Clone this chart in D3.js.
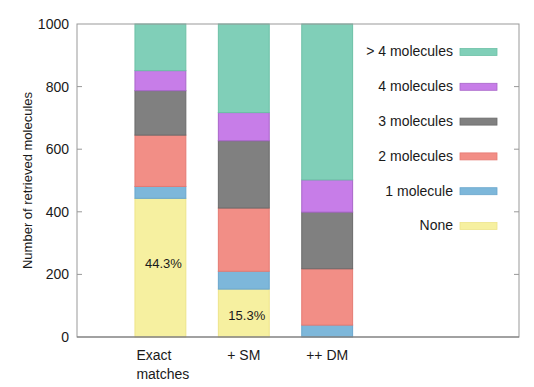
<!DOCTYPE html>
<html>
<head>
<meta charset="utf-8">
<script src="https://cdn.jsdelivr.net/npm/d3@7"></script>
<style>
  body { margin: 0; background: #fff; }
  text { font-family: "Liberation Sans", Arial, Helvetica, sans-serif; fill: #1a1a1a; }
</style>
</head>
<body>
<script>
// stacked bars: number of retrieved molecules per method

var categories = ["Exact matches", "+ SM", "++ DM"];
var catLines = [["Exact", "matches"], ["+ SM"], ["++ DM"]];
var seriesNames = ["None", "1 molecule", "2 molecules", "3 molecules", "4 molecules", "> 4 molecules"];
var seriesColors = ["#f6f0a0", "#7db7da", "#f28e86", "#808080", "#c77de8", "#80cfb8"];
var seriesStroke = ["#eee48a", "#6aa6cc", "#e57a72", "#6a6a6a", "#a866c9", "#6cc0a6"];

var none = [443, 153, 0];
var one = [38, 57, 38];
var two = [164, 202, 180];
var three = [142, 215, 181];
var four = [64, 90, 103];
var more = [149, 283, 498];

var pctLabels = ["44.3%", "15.3%", ""];
var pctLabelY = [221, 54, 0];

var yTicks = [0, 200, 400, 600, 800, 1000];

var svgWidth = 534;
var svgHeight = 387;
var margin = { top: 24, right: 15, bottom: 50, left: 77 };
var width = svgWidth - margin.left - margin.right;
var height = svgHeight - margin.top - margin.bottom;

var svg = d3.select("body")
  .append("svg")
  .attr("width", svgWidth)
  .attr("height", svgHeight);

var chart = svg.append("g")
  .attr("transform", "translate(" + margin.left + "," + margin.top + ")");

// x runs in "bar index" units, like gnuplot histograms
var xScale = d3.scaleLinear().domain([-1, 4.3]).range([0, width]);
var yScale = d3.scaleLinear().domain([0, 1000]).range([height, 0]);
var barW = xScale(0.61) - xScale(0);

var series = [none, one, two, three, four, more];
var rows = categories.map(function(c, i) {
  var r = { cat: c, idx: i };
  seriesNames.forEach(function(s, j) { r[s] = series[j][i]; });
  return r;
});
var stacked = d3.stack().keys(seriesNames)(rows);

var layers = chart.selectAll("g.layer")
  .data(stacked)
  .enter()
  .append("g")
  .attr("class", "layer")
  .attr("fill", function(d, i) { return seriesColors[i]; })
  .attr("stroke", function(d, i) { return seriesStroke[i]; });

layers.selectAll("rect")
  .data(function(d) { return d; })
  .enter()
  .append("rect")
  .filter(function(d) { return d[1] - d[0] > 0; })
  .attr("x", function(d) { return xScale(d.data.idx) - barW / 2; })
  .attr("y", function(d) { return yScale(d[1]); })
  .attr("width", barW)
  .attr("height", function(d) { return yScale(d[0]) - yScale(d[1]); })
  .attr("stroke-width", 1);

// percentage labels inside the yellow segments
chart.selectAll("text.pct")
  .data(pctLabels)
  .enter()
  .append("text")
  .attr("class", "pct")
  .attr("x", function(d, i) { return xScale(i) + 3; })
  .attr("y", function(d, i) { return yScale(pctLabelY[i]); })
  .attr("text-anchor", "middle")
  .style("font-size", "13px")
  .text(function(d) { return d; });

// frame
chart.append("rect")
  .attr("x", 0).attr("y", 0)
  .attr("width", width).attr("height", height)
  .attr("fill", "none")
  .attr("stroke", "#999")
  .attr("stroke-width", 1);
chart.append("line")
  .attr("x1", 0).attr("x2", width)
  .attr("y1", height).attr("y2", height)
  .attr("stroke", "#777");

// y axis, ticks inward on both sides
var leftAxis = d3.axisLeft(yScale).tickValues(yTicks).tickFormat(d3.format("d")).tickSize(0).tickPadding(8);
var yAxisG = chart.append("g").call(leftAxis);
yAxisG.select(".domain").remove();
yAxisG.selectAll("text").style("font-size", "14px").attr("fill", "#1a1a1a");

chart.selectAll("line.ltick")
  .data(yTicks.slice(1, -1))
  .enter()
  .append("line")
  .attr("x1", 0).attr("x2", 5)
  .attr("y1", function(d) { return yScale(d); })
  .attr("y2", function(d) { return yScale(d); })
  .attr("stroke", "#999");
chart.selectAll("line.rtick")
  .data(yTicks.slice(1, -1))
  .enter()
  .append("line")
  .attr("x1", width - 5).attr("x2", width)
  .attr("y1", function(d) { return yScale(d); })
  .attr("y2", function(d) { return yScale(d); })
  .attr("stroke", "#999");

// y label
svg.append("text")
  .attr("transform", "translate(32," + (margin.top + height / 2) + ") rotate(-90)")
  .attr("text-anchor", "middle")
  .style("font-size", "13px")
  .text("Number of retrieved molecules");

// category labels
var catG = chart.selectAll("text.cat")
  .data(catLines)
  .enter()
  .append("text")
  .attr("class", "cat")
  .attr("text-anchor", function(d) { return d.length > 1 ? "start" : "middle"; })
  .style("font-size", "14px");
catG.selectAll("tspan")
  .data(function(d, i) { return d.map(function(t) { return { t: t, i: i, n: d.length }; }); })
  .enter()
  .append("tspan")
  .attr("x", function(d) { return d.n > 1 ? xScale(d.i) - 24 : xScale(d.i); })
  .attr("y", function(d, k) { return height + 23 + k * 19; })
  .text(function(d) { return d.t; });

// legend, top entry first
var legend = chart.append("g").attr("transform", "translate(" + (453 - margin.left) + ",0)");
var legendItems = legend.selectAll("g")
  .data(seriesNames.slice().reverse())
  .enter()
  .append("g")
  .attr("transform", function(d, i) { return "translate(0," + (27.5 + i * 34.8) + ")"; });
legendItems.append("text")
  .attr("text-anchor", "end")
  .attr("dy", "0.35em")
  .style("font-size", "14px")
  .text(function(d) { return d; });
legendItems.append("rect")
  .attr("x", 7).attr("y", -3)
  .attr("width", 37).attr("height", 7)
  .attr("fill", function(d) { return seriesColors[seriesNames.indexOf(d)]; })
  .attr("stroke", function(d) { return seriesStroke[seriesNames.indexOf(d)]; })
  .attr("stroke-width", 0.8);
</script>
</body>
</html>
